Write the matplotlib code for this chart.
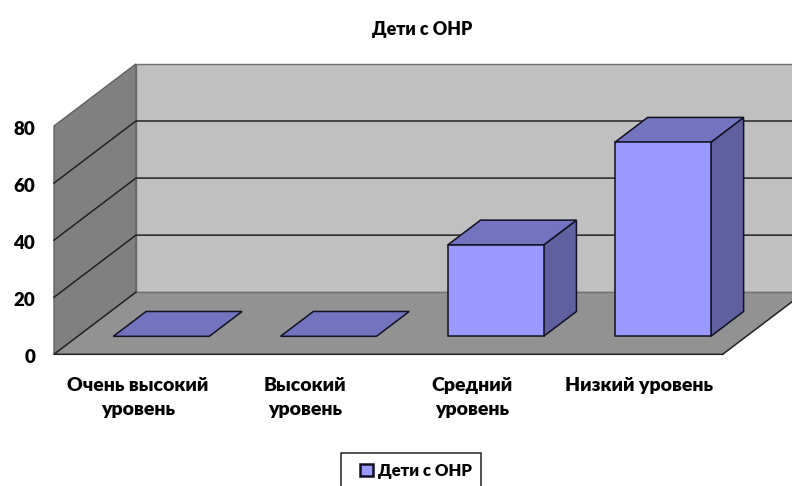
import matplotlib
matplotlib.use("Agg")
import matplotlib.pyplot as plt
from matplotlib.patches import Polygon, Patch, Rectangle
from matplotlib.transforms import ScaledTranslation

plt.rcParams['font.family'] = ['Lato', 'DejaVu Sans']
plt.rcParams['font.weight'] = 'heavy'

# Chart data
categories = ["Очень высокий\nуровень", "Высокий\nуровень", "Средний\nуровень", "Низкий уровень"]
values = [0, 0, 32, 68]
y_ticks = [0, 20, 40, 60, 80]
series_name = "Дети с ОНР"

# Oblique 3D look: how far one unit of depth moves a point
DEPTH_X = 0.49
DEPTH_Y = 21.75
BAR_W = 0.574
BAR_D0 = 0.29
BAR_D1 = 0.69

def proj(x, y, d):
    return (x + d * DEPTH_X, y + d * DEPTH_Y)

def face(ax, pts, color, edge, lw=1.0, z=1):
    ax.add_patch(Polygon([proj(*p) for p in pts], closed=True, facecolor=color,
                         edgecolor=edge, linewidth=lw, clip_on=False, zorder=z))

W, H = 792, 486
fig = plt.figure(figsize=(W / 100, H / 100), dpi=100)
ax = fig.add_axes([54 / W, 1 - 354.3 / H, 668.7 / W, 228.3 / H])
ax.set_xlim(-0.5, 3.5)
ax.set_ylim(0, 80)
x0, x1 = -0.5, 3.5
top = y_ticks[-1]

# back wall, side wall, floor
face(ax, [(x0, 0, 1), (x1, 0, 1), (x1, top, 1), (x0, top, 1)], '#C0C0C0', '#707070')
face(ax, [(x0, 0, 0), (x0, 0, 1), (x0, top, 1), (x0, top, 0)], '#808080', '#606060')
face(ax, [(x0, 0, 0), (x1, 0, 0), (x1, 0, 1), (x0, 0, 1)], '#929292', 'none', z=2)

# gridlines run along the side wall and then the back wall
for t in y_ticks[1:-1]:
    pts = [proj(x0, t, 0), proj(x0, t, 1), proj(x1, t, 1)]
    ax.plot([p[0] for p in pts], [p[1] for p in pts], color='#222222', lw=1.1,
            clip_on=False, zorder=1.5)

# floor outline in front
pts = [proj(x0, 0, 1), proj(x0, 0, 0), proj(x1, 0, 0), proj(x1, 0, 1)]
ax.plot([p[0] for p in pts[:3]], [p[1] for p in pts[:3]], color='#222222', lw=1.1, clip_on=False, zorder=3)
ax.plot([p[0] for p in pts[2:]], [p[1] for p in pts[2:]], color='#222222', lw=1.1, clip_on=False, zorder=3)
ax.plot([pts[0][0], pts[3][0]], [pts[0][1], pts[3][1]], color='#707070', lw=1.0, clip_on=False, zorder=2.5)

# bars
for i, v in enumerate(values):
    l, r = i - BAR_W / 2, i + BAR_W / 2
    if v > 0:
        face(ax, [(l, 0, BAR_D0), (r, 0, BAR_D0), (r, v, BAR_D0), (l, v, BAR_D0)], '#9999FF', '#111122', 1.1, 5)
        face(ax, [(r, 0, BAR_D0), (r, 0, BAR_D1), (r, v, BAR_D1), (r, v, BAR_D0)], '#6060A0', '#111122', 1.1, 4)
    face(ax, [(l, v, BAR_D0), (r, v, BAR_D0), (r, v, BAR_D1), (l, v, BAR_D1)], '#7373BF', '#111122', 1.1, 4)

# axes only carry the tick labels
for s in ax.spines.values():
    s.set_visible(False)
ax.patch.set_visible(False)
ax.set_xticks(range(len(categories)))
ax.set_xticklabels(categories, fontsize=14, fontweight='heavy', linespacing=1.5)
ax.set_yticks(y_ticks)
ax.set_yticklabels([str(t) for t in y_ticks], fontsize=13.5, fontweight='heavy')
ax.tick_params(axis='both', length=0)
ax.tick_params(axis='x', pad=16)
ax.tick_params(axis='y', pad=13.5)
shift = ScaledTranslation(0, -2 / 100, fig.dpi_scale_trans)
for lab in ax.get_yticklabels():
    lab.set_transform(lab.get_transform() + shift)

fig.text(422 / W, 1 - 29.5 / H, series_name, ha='center', va='center', fontsize=12.8, fontweight='heavy')

# legend frame runs off the bottom of the picture
fig.add_artist(Rectangle((341 / W, -5 / H), 140 / W, (486 - 453 + 5) / H, transform=fig.transFigure,
                         facecolor='white', edgecolor='#222222', linewidth=1.1))
leg = fig.legend(handles=[Patch(facecolor='#9999FF', edgecolor='#111122', linewidth=1.8, label=series_name)],
                 loc='upper left', bbox_to_anchor=(360 / W, 1 - 463 / H), borderaxespad=0, frameon=False,
                 handlelength=0.75, handleheight=0.75, handletextpad=0.3, borderpad=0,
                 prop={'weight': 'heavy', 'size': 12})

fig.savefig("out.png", dpi=100)
